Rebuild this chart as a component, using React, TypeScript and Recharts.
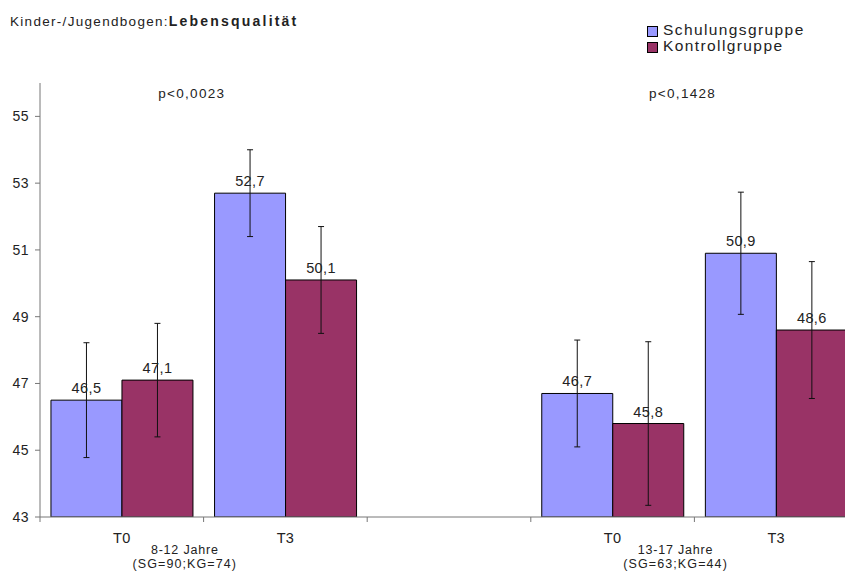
import React from 'react';
import { BarChart, Bar, XAxis, YAxis, ErrorBar, LabelList } from 'recharts';

// ---- data ----
const categories = ['a0', 'a3', 'gap', 'b0', 'b3'];
const tickLabels = ['T0', 'T3', '', 'T0', 'T3'];
const schulung = [46.5, 52.7, null, 46.7, 50.9];
const kontroll = [47.1, 50.1, null, 45.8, 48.6];
const schulungErr = [1.72, 1.3, null, 1.6, 1.83];
const kontrollErr = [1.7, 1.6, null, 2.45, 2.05];
const groupLabels = ['8-12 Jahre', '', '', '13-17 Jahre', ''];
const groupSizes = ['(SG=90;KG=74)', '', '', '(SG=63;KG=44)', ''];
const pValues = ['p<0,0023', '', '', 'p<0,1428', ''];
const yTicks = [43, 45, 47, 49, 51, 53, 55];
const seriesNames = ['Schulungsgruppe', 'Kontrollgruppe'];

const data = categories.map((c, i) => ({
  cat: c,
  sg: schulung[i],
  kg: kontroll[i],
  sgErr: schulungErr[i],
  kgErr: kontrollErr[i],
}));

// ---- layout ----
const CHART_W = 860;
const CHART_H = 574;
const MARGIN = { top: 83, right: 2, bottom: 0, left: 0 };
const Y_W = 40;
const X_H = 57;
const PLOT_W = CHART_W - MARGIN.left - MARGIN.right - Y_W;
const BAND = PLOT_W / categories.length;
const AXIS_Y = CHART_H - MARGIN.bottom - X_H;

const FONT = '"Liberation Sans", Arial, Helvetica, sans-serif';
const BLUE = '#9999FF';
const RED = '#993366';
const AXIS = '#777777';
const TEXT = '#222222';

const fmt = (v: any) => (v == null ? '' : String(v).replace('.', ','));

const XTick = (props: any) => {
  const { x, y, payload } = props;
  const i = categories.indexOf(payload.value);
  const half = BAND / 2;
  return (
    <g>
      <line x1={x - half} x2={x - half} y1={y} y2={y + 5} stroke={AXIS} strokeWidth={1} />
      {tickLabels[i] ? (
        <text x={x} y={y + 26} textAnchor="middle" fontSize={14.5} fontFamily={FONT} fill={TEXT} letterSpacing={0.3}>
          {tickLabels[i]}
        </text>
      ) : null}
      {groupLabels[i] ? (
        <text x={x + 63} y={y + 37} textAnchor="middle" fontSize={12.5} fontFamily={FONT} fill={TEXT} letterSpacing={0.8}>
          {groupLabels[i]}
        </text>
      ) : null}
      {groupSizes[i] ? (
        <text x={x + 63} y={y + 51} textAnchor="middle" fontSize={12.5} fontFamily={FONT} fill={TEXT} letterSpacing={1.1}>
          {groupSizes[i]}
        </text>
      ) : null}
      {pValues[i] ? (
        <text x={x + 70} y={y - (AXIS_Y - 98)} textAnchor="middle" fontSize={13.5} fontFamily={FONT} fill={TEXT} letterSpacing={1.3}>
          {pValues[i]}
        </text>
      ) : null}
    </g>
  );
};

export default function App() {
  return (
    <div style={{ position: 'absolute', left: 0, top: 0, width: 845, height: 574, overflow: 'hidden', background: '#fff' }}>
      <BarChart
        width={CHART_W}
        height={CHART_H}
        data={data}
        margin={MARGIN}
        barCategoryGap="6.7%"
        barGap={0}
      >
        <XAxis
          dataKey="cat"
          height={X_H}
          interval={0}
          axisLine={{ stroke: AXIS }}
          tickLine={false}
          tickSize={0}
          tickMargin={0}
          tick={<XTick />}
        />
        <YAxis
          width={Y_W}
          domain={[43, 56]}
          ticks={yTicks}
          allowDataOverflow
          axisLine={{ stroke: AXIS }}
          tickLine={{ stroke: AXIS }}
          tickSize={5}
          tickMargin={6}
          tick={{ fontSize: 14, fill: TEXT, fontFamily: FONT, letterSpacing: 0.5 }}
        />
        <Bar dataKey="sg" name={seriesNames[0]} fill={BLUE} stroke="#000" strokeWidth={1} isAnimationActive={false}>
          <LabelList dataKey="sg" position="top" offset={7} formatter={fmt} fill={TEXT} fontSize={14.5} fontFamily={FONT} letterSpacing={0.4} />
          <ErrorBar dataKey="sgErr" width={3} stroke="#111" strokeWidth={1} isAnimationActive={false} />
        </Bar>
        <Bar dataKey="kg" name={seriesNames[1]} fill={RED} stroke="#000" strokeWidth={1} isAnimationActive={false}>
          <LabelList dataKey="kg" position="top" offset={7} formatter={fmt} fill={TEXT} fontSize={14.5} fontFamily={FONT} letterSpacing={0.4} />
          <ErrorBar dataKey="kgErr" width={3} stroke="#111" strokeWidth={1} isAnimationActive={false} />
        </Bar>
      </BarChart>
      <svg
        width={845}
        height={574}
        style={{ position: 'absolute', left: 0, top: 0, pointerEvents: 'none' }}
      >
        <text x={10} y={26} fontSize={13.5} fontFamily={FONT} fill={TEXT} letterSpacing={1.3}>
          Kinder-/Jugendbogen:
          <tspan fontWeight="bold" fontSize={14} letterSpacing={2.2}>Lebensqualität</tspan>
        </text>
        <rect x={647.5} y={26.5} width={10} height={10} fill={BLUE} stroke="#000" strokeWidth={1} />
        <text x={663} y={35} fontSize={15.5} fontFamily={FONT} fill={TEXT} letterSpacing={1.4}>
          {seriesNames[0]}
        </text>
        <rect x={647.5} y={42.5} width={10} height={10} fill={RED} stroke="#000" strokeWidth={1} />
        <text x={663} y={51} fontSize={15.5} fontFamily={FONT} fill={TEXT} letterSpacing={1.4}>
          {seriesNames[1]}
        </text>
      </svg>
    </div>
  );
}
